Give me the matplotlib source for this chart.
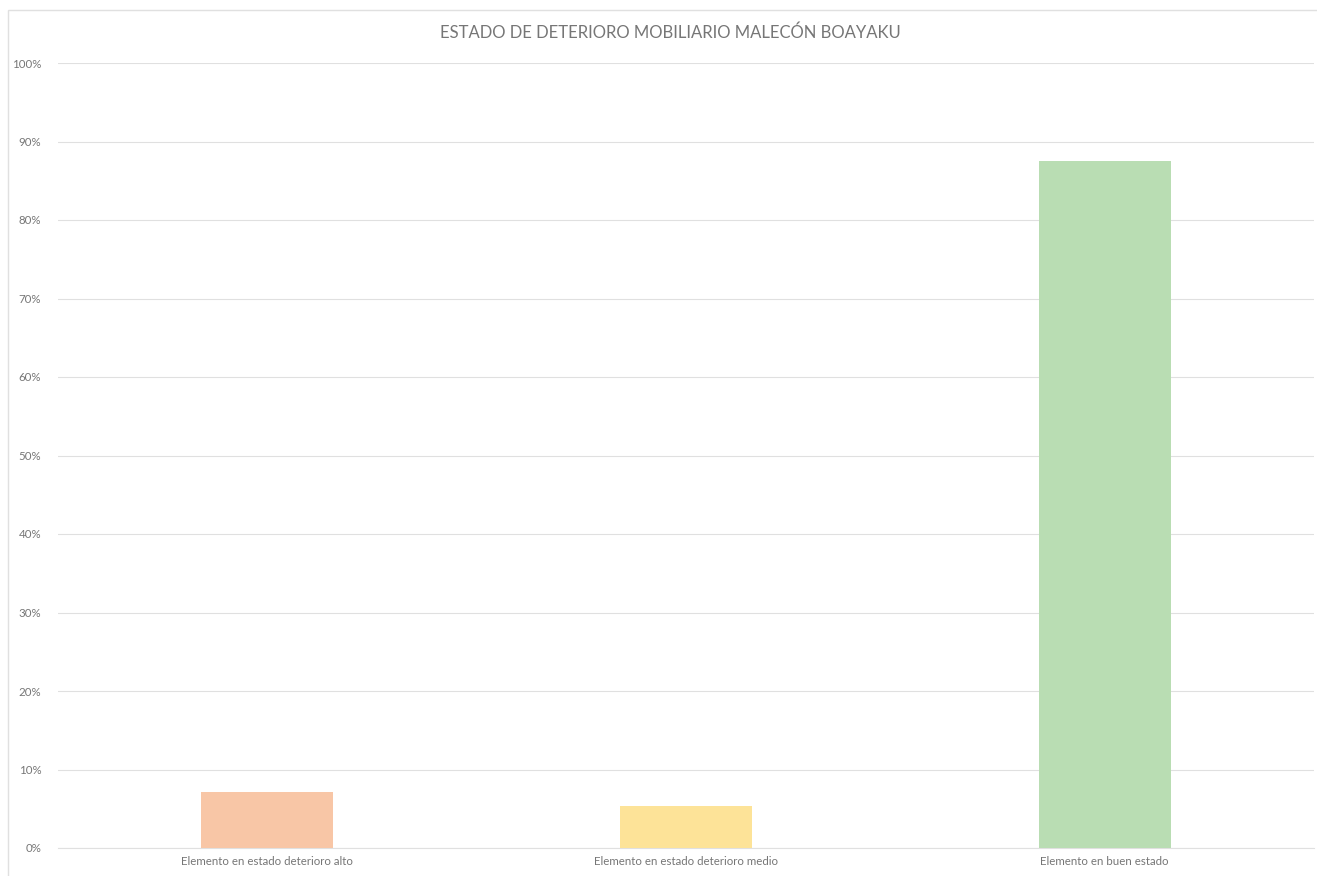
import matplotlib
matplotlib.use('Agg')
import matplotlib.pyplot as plt
from matplotlib.ticker import PercentFormatter
from matplotlib.patches import Rectangle

# datos del grafico
categorias = ['Elemento en estado deterioro alto',
              'Elemento en estado deterioro medio',
              'Elemento en buen estado']
porcentajes = [7.14, 5.36, 87.5]
colores = ['#F8C6A6', '#FDE398', '#B9DDB3']

plt.rcParams['font.family'] = ['Lato', 'DejaVu Sans']
textColor = '#767676'

W, H = 1317, 876
fig = plt.figure(figsize=(W / 100, H / 100), dpi=100)
ax = fig.add_axes([58 / W, (H - 848) / H, (1314 - 58) / W, (848 - 63) / H])

x = range(len(categorias))
ax.bar(x, porcentajes, width=0.315, color=colores, zorder=3)

ax.set_xlim(-0.5, 2.5)
ax.set_ylim(0, 100)
ax.set_yticks(range(0, 101, 10))
ax.yaxis.set_major_formatter(PercentFormatter(decimals=0))
ax.set_xticks(list(x))
ax.set_xticklabels(categorias)
ax.tick_params(axis='both', length=0, labelsize=8.3, labelcolor=textColor)
ax.tick_params(axis='y', pad=12)
ax.tick_params(axis='x', pad=6)

ax.grid(axis='y', color='#E0E0E0', linewidth=0.8, zorder=0)
for s in ['top', 'right', 'left']:
    ax.spines[s].set_visible(False)
ax.spines['bottom'].set_color('#E0E0E0')

fig.text(670 / W, (H - 33) / H, 'ESTADO DE DETERIORO MOBILIARIO MALECÓN BOAYAKU',
         ha='center', va='center', fontsize=12, color=textColor)

# borde del area del grafico (solo arriba e izquierda visibles)
fig.patches.append(Rectangle((8 / W, -0.01), 1.05, (H - 10) / H + 0.01,
                             transform=fig.transFigure, fill=False,
                             edgecolor='#E0E0E0', linewidth=1))

fig.savefig('out.png', dpi=100)
